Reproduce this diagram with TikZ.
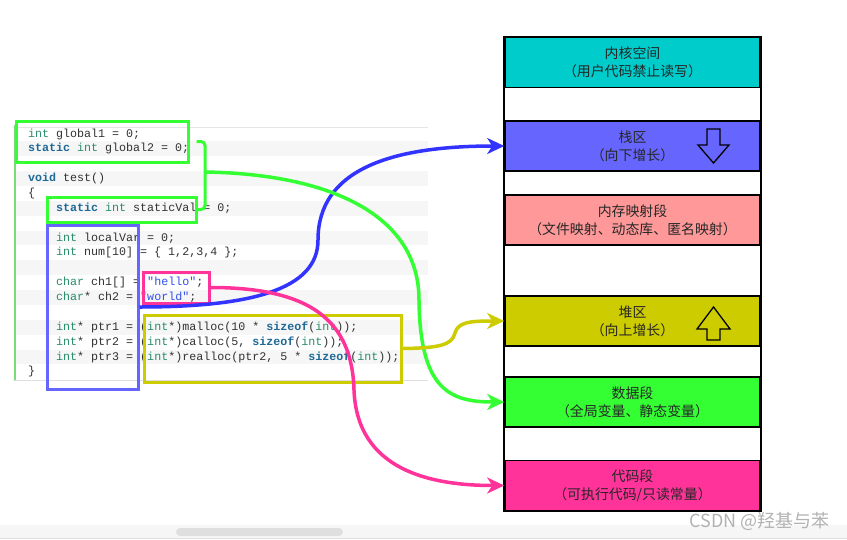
\documentclass[tikz,border=0pt]{standalone}
\usepackage{fontspec}
\setmonofont{Liberation Mono}
\newfontfamily\cjk{Noto Sans CJK SC}
\usetikzlibrary{positioning,arrows.meta}
\definecolor{kerncol}{RGB}{0,204,204}
\definecolor{stackcol}{RGB}{102,102,255}
\definecolor{mmapcol}{RGB}{255,153,153}
\definecolor{heapcol}{RGB}{204,204,0}
\definecolor{datacol}{RGB}{51,255,51}
\definecolor{textcol}{RGB}{255,51,153}
\definecolor{bluecol}{RGB}{51,51,255}
\definecolor{kwcol}{RGB}{30,105,150}
\definecolor{tycol}{RGB}{40,140,105}
\definecolor{strcol}{RGB}{50,80,235}
\definecolor{idcol}{RGB}{50,50,50}
\definecolor{edgecol}{RGB}{120,220,120}
\newcommand{\kwd}[1]{\textcolor{kwcol}{\bfseries #1}}
\newcommand{\typ}[1]{\textcolor{tycol}{#1}}
\newcommand{\strg}[1]{\textcolor{strcol}{#1}}
\newcommand{\indt}{\phantom{xxxx}}
\newcommand{\codefont}{\ttfamily\fontsize{11.67}{14}\selectfont\frenchspacing\spaceskip 0.6em\relax}
\tikzstyle{seg}=[draw, line width=1.6pt, minimum width=255pt, minimum height=50pt, inner sep=0pt, align=center, text=black!85, font=\cjk\fontsize{13.9}{18}\selectfont]
\tikzstyle{code}=[text width=400pt, align=flush left, inner sep=0pt, text height=9pt, text depth=3pt, text=idcol, font=\codefont]
\tikzstyle{hl}=[draw, line width=3pt, inner sep=0pt]
\tikzstyle{link}=[->, line width=3.5pt]
\tikzstyle{growarr}=[draw, line width=1.3pt, line join=miter]
\begin{document}
\begin{tikzpicture}[x=1pt,y=-1pt,>={Stealth[length=17pt,width=16pt,inset=5pt]}]
\useasboundingbox (0,0) rectangle (847,539);
\fill[white] (0,0) rectangle (847,539);

% code panel
\foreach \i in {1,3,...,15}
  \fill[gray!7] (15,126.6+14.87*\i) rectangle (428,141.4+14.87*\i);
\draw[gray!20] (15,127) -- (428,127);
\draw[gray!25] (13,380) -- (428,380);
\draw[edgecol, line width=1.5pt] (15,125) -- (15,380);

\node[code, anchor=west] at (28,134) (l1) {\typ{int} global1 = 0;};
\node[code, below of = l1, node distance = 14.87pt] (l2) {\kwd{static} \typ{int} global2 = 0;};
\node[code, below of = l2, node distance = 29.74pt] (l3) {\kwd{void} test()};
\node[code, below of = l3, node distance = 14.87pt] (l4) {\{};
\node[code, below of = l4, node distance = 14.87pt] (l5) {\indt\kwd{static} \typ{int} staticVal = 0;};
\node[code, below of = l5, node distance = 29.74pt] (l6) {\indt\typ{int} localVar = 0;};
\node[code, below of = l6, node distance = 14.87pt] (l7) {\indt\typ{int} num[10] = \{ 1,2,3,4 \};};
\node[code, below of = l7, node distance = 29.74pt] (l8) {\indt\typ{char} ch1[] = \strg{"hello"};};
\node[code, below of = l8, node distance = 14.87pt] (l9) {\indt\typ{char}* ch2 = \strg{"world"};};
\node[code, below of = l9, node distance = 29.74pt] (l10) {\indt\typ{int}* ptr1 = (\typ{int}*)malloc(10 * \kwd{sizeof}(\typ{int}));};
\node[code, below of = l10, node distance = 14.87pt] (l11) {\indt\typ{int}* ptr2 = (\typ{int}*)calloc(5, \kwd{sizeof}(\typ{int}));};
\node[code, below of = l11, node distance = 14.87pt] (l12) {\indt\typ{int}* ptr3 = (\typ{int}*)realloc(ptr2, 5 * \kwd{sizeof}(\typ{int}));};
\node[code, below of = l12, node distance = 14.87pt] (l13) {\}};

% highlight boxes
\node[hl, draw=datacol, minimum width=172pt, minimum height=41pt] at (102,141.5) (glob) {};
\node[hl, draw=datacol, minimum width=149pt, minimum height=25pt] at (121.5,209.5) (stat) {};
\node[hl, draw=stackcol, minimum width=91pt, minimum height=164pt] at (92.5,307) (loc) {};
\node[hl, draw=textcol, minimum width=66pt, minimum height=31pt] at (176,287.5) (str) {};
\node[hl, draw=heapcol, minimum width=257pt, minimum height=67pt] at (272.5,348.5) (dyn) {};

% memory layout
\node[seg, fill=kerncol] at (632.5,62.5) (kern) {内核空间\\（用户代码禁止读写）};
\node[seg, fill=stackcol, below of = kern, node distance = 83.5pt] (stack) {栈区\\（向下增长）};
\node[seg, fill=mmapcol, below of = stack, node distance = 74pt] (mmap) {内存映射段\\（文件映射、动态库、匿名映射）};
\node[seg, fill=heapcol, below of = mmap, node distance = 101pt] (heap) {堆区\\（向上增长）};
\node[seg, fill=datacol, below of = heap, node distance = 81pt] (data) {数据段\\（全局变量、静态变量）};
\node[seg, fill=textcol, below of = data, node distance = 83.5pt] (codeseg) {代码段\\（可执行代码/只读常量）};
\draw[line width=1.6pt] (kern.north west) rectangle (codeseg.south east);

\draw[growarr] (707,129) -- (720,129) -- (720,145) -- (729,145) -- (713.5,163) -- (698,145) -- (707,145) -- cycle;
\draw[growarr] (713.5,307) -- (730,329) -- (720,329) -- (720,340) -- (707,340) -- (707,329) -- (697,329) -- cycle;

% links
\draw[link, bluecol] (loc.east) .. controls (250,307) and (318,290) .. (318,240) .. controls (318,170) and (390,146) .. (stack.west);
\draw[datacol, line width=3pt, rounded corners=4pt] ([xshift=7pt]glob.east) -- (205,141.5) -- (205,209.5) -- (stat.east);
\coordinate (tip) at (205,172);
\draw[link, datacol] (tip) .. controls (330,174) and (419,215) .. (419,300) .. controls (420,390) and (450,402) .. (data.west);
\draw[link, heapcol] (dyn.east) .. controls (440,348) and (452,345) .. (455,333) .. controls (458,322) and (470,321) .. (heap.west);
\draw[link, textcol] (str.east) .. controls (310,287.5) and (352,320) .. (354,390) .. controls (357,470) and (430,485.5) .. (codeseg.west);

% scrollbar and mark
\fill[gray!7] (0,525) rectangle (847,539);
\fill[gray!25, rounded corners=4pt] (176,528) rectangle (343,536);
\draw[gray!25] (0,538.5) -- (847,538.5);
\node[text=gray!60, font=\cjk\fontsize{18}{20}\selectfont, anchor=east] at (833,521) (mark) {CSDN @羟基与苯};
\end{tikzpicture}
\end{document}
